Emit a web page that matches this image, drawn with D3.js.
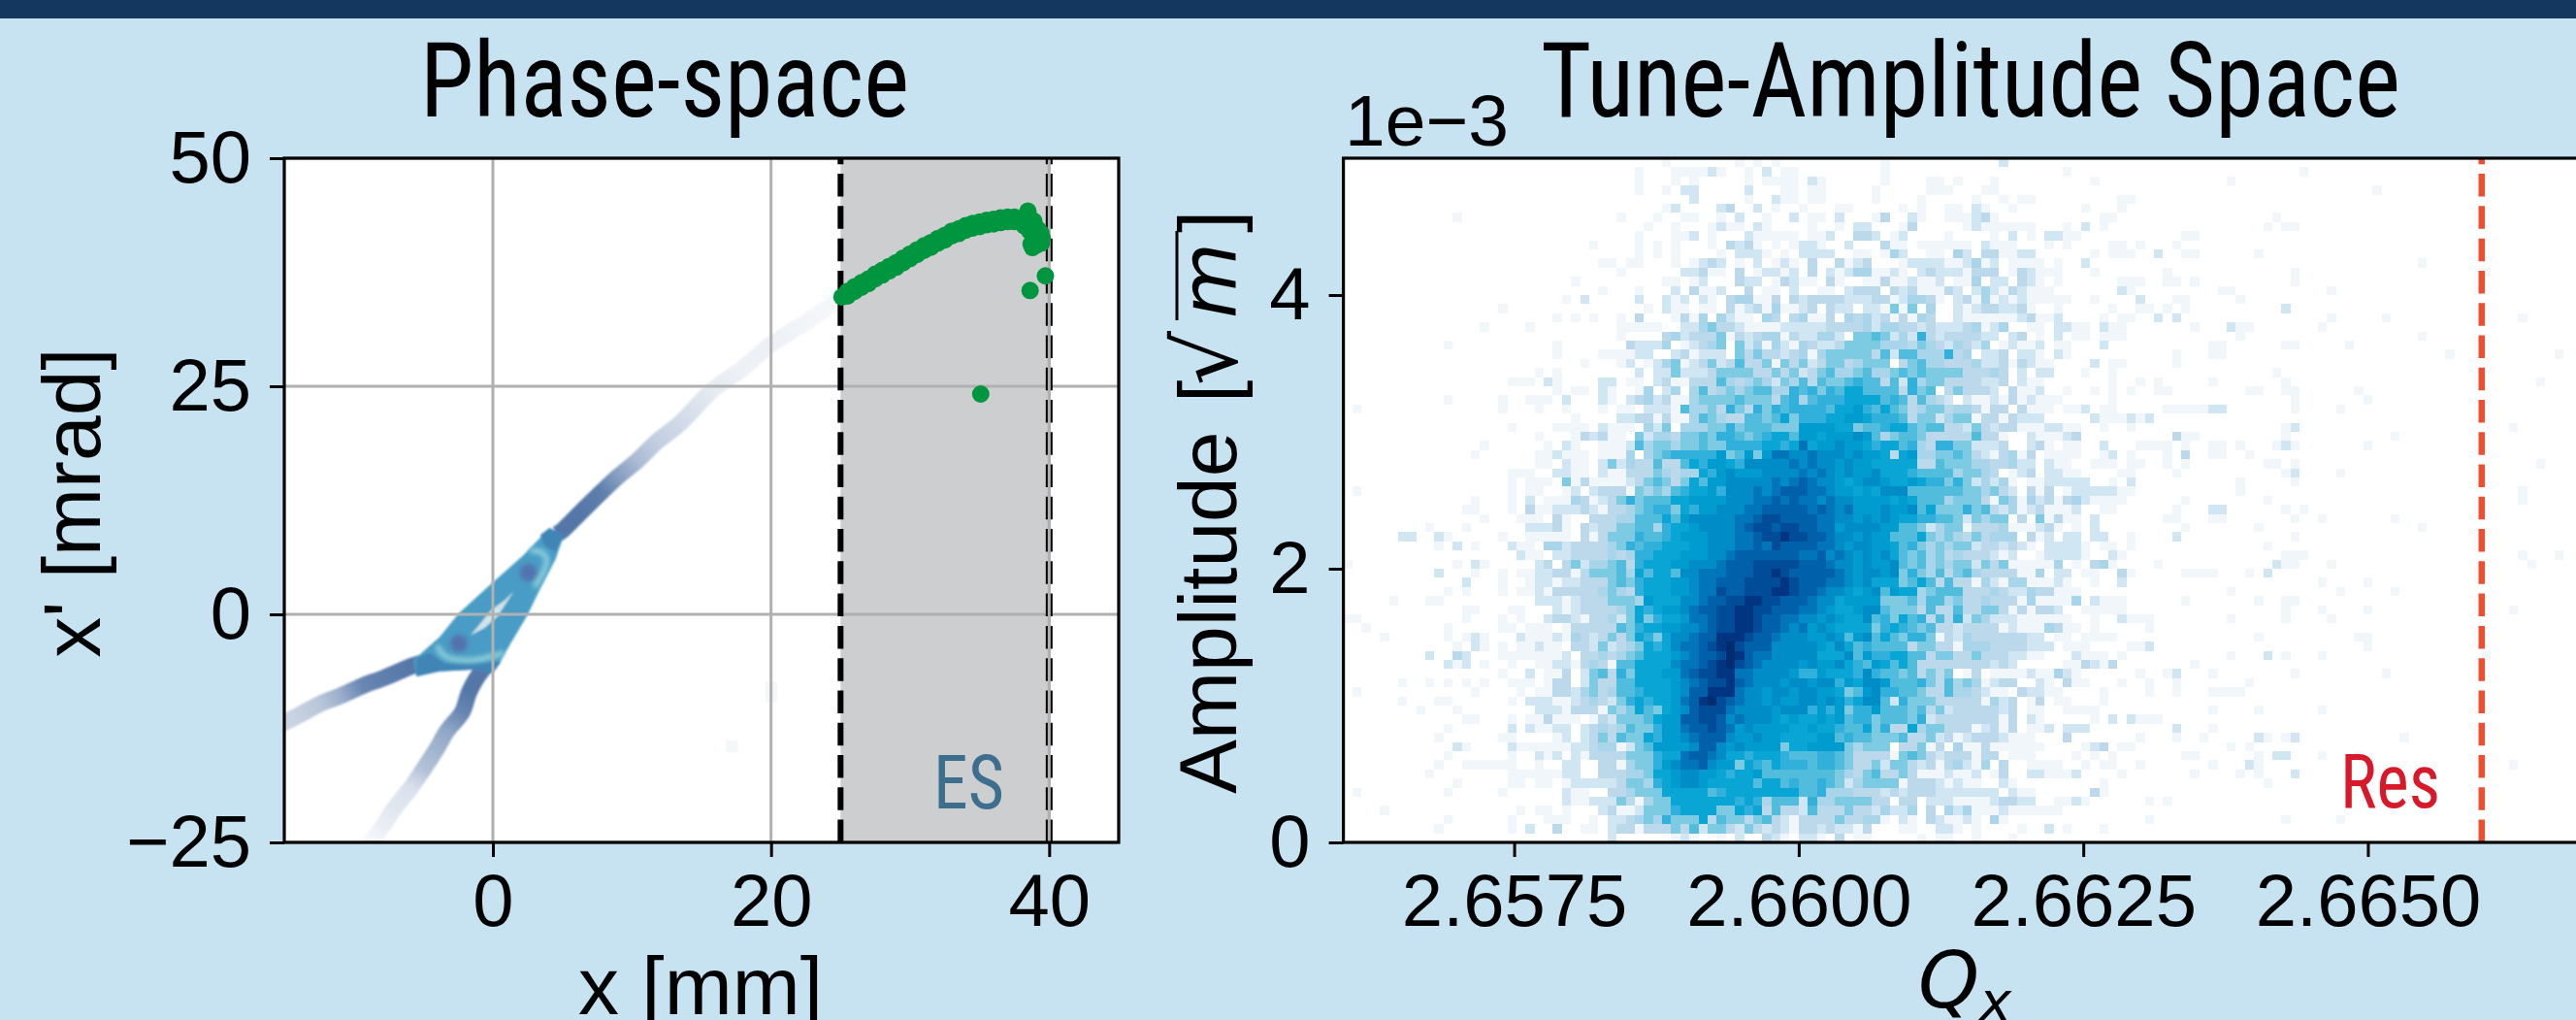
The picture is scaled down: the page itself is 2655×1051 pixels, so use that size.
<!DOCTYPE html>
<html>
<head>
<meta charset="utf-8">
<script src="https://d3js.org/d3.v7.min.js"></script>
<style>
html, body { margin: 0; padding: 0; background: #c7e2f1; overflow: hidden; }
text { font-family: "Liberation Sans", Arial, sans-serif; fill: #000; }
.head { font-family: "Roboto Condensed", Roboto, sans-serif; }
</style>
</head>
<body>
<div id="chart"></div>
<script>

// phase-space panel: arms of the separatrix, [x, x', density]
var armLeft = [[-15.6,-12.3,.28],[-14.0,-11.1,.34],[-12.4,-9.8,.42],[-10.9,-8.9,.6],[-9.4,-7.85,.88],[-7.8,-6.95,.95],[-5.7,-5.6,1],[-5.0,-5.3,1]];
var armDown = [[-9.4,-26,.03],[-8.8,-24.9,.05],[-8.0,-23.4,.12],[-7.1,-21.3,.18],[-5.9,-19.0,.22],[-5.0,-17.0,.45],[-4.1,-14.9,.55],[-3.3,-12.8,.65],[-2.2,-10.7,.9],[-1.7,-8.5,1],[-0.8,-6.2,1],[-0.4,-5.6,1]];
var armUp = [[24.9,34.5,.06],[22.5,32.0,.07],[20.0,29.6,.11],[18.0,27.0,.1],[15.8,24.6,.15],[13.5,21.0,.27],[11.7,18.8,.36],[10.35,16.8,.5],[9.07,15.2,.7],[7.8,13.4,.95],[6.2,11.0,1],[5.0,9.2,1],[4.6,8.8,1]];

// outline of the core and the features inside it, [x, x']
var coreOutline = [[-5.7,-5.0],[-3.84,-2.5],[-2.44,.14],[0,3.5],[2.2,6.5],[4.07,9.47],[5.1,8.65],[4.5,6.0],[3.4,2.8],[2.44,-.2],[1.28,-3.2],[.35,-5.7],[0,-6.4],[-1.5,-6.06],[-3.84,-6.24],[-5.5,-6.8]];
var coreEdgeLow = [[-5.5,-4.9],[-5.5,-6.8],[-3.84,-6.24],[-1.5,-6.06],[0,-6.4],[.6,-5.2],[-1.0,-5.3],[-3.4,-5.4],[-4.6,-4.2]];
var coreEdgeHigh = [[3.4,8.7],[4.07,9.47],[5.1,8.65],[4.5,6.9],[3.8,7.4]];
var ringLow = [[-4.0,-3.4],[-3.7,-4.5],[-2.8,-5.0],[-1.5,-5.1],[-.2,-4.7],[.8,-4.2]];
var ringHigh = [[2.7,7.0],[3.6,6.9],[4.0,6.0],[3.6,4.4],[3.0,3.0]];
var streak = [[-1.6,-2.3],[-.6,-1.5],[.3,-.3],[1.5,2.5],[.9,1.6],[-.1,.5],[-.9,-1.0]];
var lobeCentres = [[-2.44,-3.2],[2.56,4.57]];
var faintSpots = [[20,-8],[20,-9],[17.2,-14.5]];

// lost particles on the septum, [x, x']
var lostX = [25.1,25.4,25.8,26.1,26.5,26.9,27.3,27.7,28.1,28.5,28.9,29.3,29.7,30.1,30.5,30.9,31.3,31.7,32.1,32.5,32.9,33.3,33.7,34.1,34.5,34.9,35.3,35.7,36.1,36.5,36.9,37.3,37.7,38.0,38.3,38.6,38.9,39.2,39.4,39.5,39.45,39.1,38.8,38.47,38.5,35.08,38.63,39.73,
    25.5,26,26.5,27,27.5,28,28.5,29,29.5,30,30.5,31,31.5,32,32.5,33,33.5,34,34.5,35,35.5,36,36.5,37,37.5,
    25.5,26,26.5,27,27.5,28,28.5,29,29.5,30,30.5,31,31.5,32,32.5,33,33.5,34,34.5,35,35.5,36,36.5,37,37.5,
    38.2,38.6,38.9,39.0,38.7,39.3,38.9,38.4];
var lostXp = [34.8,35.1,35.3,35.7,36.1,36.4,36.9,37.2,37.5,37.9,38.2,38.6,39.0,39.3,39.7,40.0,40.3,40.7,41.0,41.3,41.6,41.9,42.1,42.4,42.6,42.7,42.9,43.0,43.1,43.2,43.3,43.3,43.3,43.2,43.1,42.9,42.6,42.2,41.8,41.2,40.7,40.5,40.2,44.2,43.7,24.15,35.5,37.1,
    35.4,35.9,36.35,36.75,37.3,37.7,38.15,38.55,39.05,39.5,39.95,40.4,40.75,41.2,41.55,42,42.25,42.6,42.85,43.0,43.2,43.3,43.45,43.55,43.55,
    34.9,35.4,35.85,36.25,36.8,37.2,37.65,38.05,38.55,39,39.45,39.9,40.25,40.7,41.05,41.5,41.75,42.1,42.35,42.5,42.7,42.8,42.95,43.05,43.05,
    42.6,42.0,41.5,41.0,40.6,41.2,43.1,43.5];

var phaseXTicks = [0,20,40];
var phaseYTicks = [-25,0,25,50];
var septumStart = 25;
var septumEnd = 40;

// tune-amplitude panel: histogram counts, one hex digit per bin, rows from the top
var countsLeft = [ // bins 19-56
"................1.......1.1.1.........",
".............1...111121..1.2.11.......",
".............1...1.1.....1.1111.21....",
".............1..1.22.....2...11.11....",
"...................2.....1..211.11....",
"................12....23..2.1..1...11.",
"...........1...1..11..1.2..1..2.11.2..",
"..............1..1...1211.21....1..1.2",
".............1...112.1...211111.112..3",
"........1....1.1.1...1.3231.1.1221..2.",
".............1.1.1....1.2221.1.2222..1",
".........11.11...1.1232.1.2.121.3..312",
"...........1......22311.3.12212.3.2124",
"......1.........11.12...322.13211.31..",
".........1...1...2.3112..3.11.2..11.23",
".....1.2.....2..212.21.344113.32333322",
"..............1.211.11.3123141123.322.",
"....1.1.1..1.3...1314.4211.43.34113.43",
".1.........11111..22453321111222223333",
"...........1....34233351323441322442.5",
"....1.......32224.12345.52414214322355",
"....1....111122..231222.53533234145555",
".......1...12.124512352363351535235534",
"..1.1........2.22522235555335352356445",
"11.21....22.11.23113336434542546365567",
"....1.11.21..14.24.4634545664476757688",
".111.2...21.23423114555565553674677788",
"..1..1...1.11.222164453753757677776889",
"......1....223313114654336656857778899",
"....1111.2111.425.44455756665559999885",
"..1...132311.524435565776567886998999a",
"...1.21..1112645545565577778878b899a99",
"..112111.1114.45677777956959bbaabaaa9a",
"..11.211.2524336336879987aaaaababaa9a9",
"11..2211.21133354344879a999aaaababa9a9",
".111.513111123565358699aaaaababcbaa989",
".11..12.233315454678897aaababcccbba998",
".2.11143123575666889999aaabbcbcbbabaa9",
".311222321334567758799aaabbcccccbcbab9",
"111.31..33344666869aaaaabbcddccccbbaa9",
".22231.3233556647889aaaabcddcddccbb9aa",
".11111.31355576678999aaabbcddeddccbaa9",
"11.442333345767788899aaabbcbdccccbba9a",
"211.22333343477888999aabcccccccbbcaba9",
"..23.35244563788899aaabcccdddddcccbaa9",
"112233135556486886aabbbcccddedcccccba9",
".122122333565788899abbcccddddedcccbba9",
"1121333334543788899abbdccdddeedccbaa98",
"..2221233355549888aabccddeeddcccbaa899",
"1...21233334587899abccddeeddcccbba9889",
"1..2332133425857889bbcddeedccbbaa9a988",
".111.1333336578899aabcddeedccbab9a9888",
"21112143235358758aabcceeedccbaaa99a969",
"11211.33252345878abbcdefdcccaaaaa98a86",
"111112.33434568889abccdfecbbaaaaa888a6",
"..112213431668888abbcdefdcbaaaa9a99a87",
".2.113.25637588899bcddeebbaaaa97798887",
"11.133.25336688889abcddecbaaa9aa9aa798",
"1.1133245346678889acceeebaa9aa9aa99856",
".22211234325787889bcefdcbaa9a99aa9a978",
"..2221333154586589acdddbaaaa9aaa797957",
".113111.1325556899ccddcabaaa9898898967",
".21122.23434655799bccdcb9a999988988766",
"....12.23536558799abccca99a99888899676",
"1111112234412569999acca9a9999588999954",
"..212.213333555788bccba887888766677653",
"..1..22..33145579abbca9958768777677653",
"1111122..333445889aa998788966666666543",
"1.11.1222223554789aa988888688676676524",
".....211..3345558888867888888886674443",
".....211222531455888888878746662744555",
"1.11.1...23112555788885587836332633353",
"...111..1.2234547555836553563213333533",
".2..3..11.2331333536255325323213323221",
"..........2......121..1.2..321.221.3.1"
];

var countsRight = [ // bins 57-94
"..1............2......................",
"..1...................1...............",
"..1....11.1...1..........1............",
".1.....111...11.......................",
".1....1.....1..1.11.........11........",
"....1.1..11.21..1.......1...1.........",
".13..21..111231...........11..........",
"2...13.....12111111...1.2.1...........",
"32.12....1....1.2.1.2211...........11.",
"..311.111111.2111...1.1....11.1...1...",
"1.142..11.42.331122......1.111..2..11.",
"3...12222112412.1111.1..2.............",
"41121.232221333.132111...1.......1....",
"113112112.114.22.321.1......111..11.1.",
"33.32311132.242132111.......21........",
"233124431.2314121211111..1....2...11..",
"221515.4..212332231..1.....1..11.1.1..",
"42313143..211111123112....1.11..2.2...",
"4244332322234124..11.2211.211.......1.",
"565242732333322.23.1.2.11.111.........",
"55444354324324.12112.11...2...........",
"536266444734.223.221.21...........1...",
"555.35644333422313211....2.11.....1...",
"6445656555533343.2.22...1..1..........",
"6636274553333223.211.......1..1.1.....",
"66663756.353332.3112..1..1.1.1..11....",
"8867636432.21121312111.....1..........",
"7686534553443133.3111.112.11.....11111",
"87776355245513313222.....2111212......",
"667886566332532331112211..1..1........",
"9645665333336331..211123..........311.",
"8788674377552223..231.11..2...1111.1..",
"9983894455653213413.1111..12.1...1.3..",
"9888883365554433422.211..111.11..1.1..",
"9a8887666645543.123.2211....11....1...",
"aa988987757524241.1122222..1.2........",
"98aaa666666554532.313.12222211........",
"99989866645553154142313421111......1..",
"99a99a685557563241231112..11......1...",
"a9a9887766525455.3.51311.2.......11...",
"aa99665245513334111231.1.2.........1..",
"a9966685454353444.312.22.22..1....2...",
"a998675454552332321.22221.11.1........",
"a9a86564534333212..122221..21.........",
"a99a656454552535111114.1.341....1.....",
"aa9a5754635643333114.22.11..31.....111",
"a8885686363314214411121..1..2.........",
"9a6988456663334322433111..............",
"995556466453343331411114.2111......1..",
"aa65553633633553131332..11111.........",
"a6758673637254222111111..1..2111......",
"857876563323333121114311.1.....1......",
"a6865775132433333322.11.1111..........",
"766663553314443333222.111....112......",
"97788663553353332211...2111.1.........",
"69868633333333232.....113213........1.",
"a766563535.13.1111211421......1..12...",
"aa966675364541233..21.311...1..1..1...",
"9a77665336443211.32211....1....1..1...",
"aa627555333331423.13.11...1...........",
"79666563523333323.11..1111............",
"75666572333333313.21.....1.2.2111.....",
"85733845533312313.112.222.........2...",
"6555633523123332111...3.......1...1..1",
"555.33513.4113111111....123.11........",
"333156532333133.111....1.1.1.......11.",
"35255323134214.3..1111..1.11..1.......",
"5633531112112.13..221112....1.......1.",
"5555133321211..21.........1...........",
"332323332222222.211......31...........",
"533.33.222111123322..1121......1.1....",
"324224.3.4241112111111................",
"441.21.321121.41...............1......",
"3...11..221.1....1..2.1...1...........",
"1.....1.11..1...1....................."
];

// stray bins outside the main cloud, [bin, row, count]
var strayLeft = [[12,6,1],[17,16,1],[15,18,1],[11,20,1],[18,24,1],[1,27,1],[11,26,1],[17,26,1],[17,27,1],[18,29,1],[15,31,1],[14,32,1],[18,34,1],[18,35,1],[18,36,1],[18,37,1],[18,38,1],[14,37,1],[14,38,1],[13,38,1],[1,36,1],[15,39,1],[6,41,2],[7,41,2],[9,40,1],[10,41,2],[11,41,1],[13,40,1],[17,41,1],[10,42,1],[12,42,2],[14,42,1],[18,42,2],[0,44,1],[12,44,1],[14,44,2],[15,44,1],[10,45,2],[14,45,1],[17,45,1],[17,46,1],[17,47,1],[13,46,2],[13,47,1],[11,47,1],[5,48,1],[9,48,1],[10,48,1],[13,49,1],[14,49,1],[13,50,1],[18,49,1],[0,50,1],[1,50,1],[17,50,1],[17,51,1],[18,51,1],[2,51,1],[11,51,1],[11,52,1],[4,52,1],[13,52,1],[14,52,2],[14,53,2],[15,52,1],[15,53,1],[12,53,1],[17,53,1],[9,54,2],[12,54,3],[13,54,2],[13,55,2],[17,54,1],[18,54,1],[11,55,2],[12,55,1],[15,55,1],[18,55,1],[17,56,1],[6,57,1],[9,57,1],[11,57,1],[13,57,1],[15,57,1],[18,57,1],[1,58,1],[14,58,1],[6,59,1],[10,59,1],[11,59,1],[18,59,1],[8,60,1],[12,60,1],[13,61,1],[14,61,1],[18,61,1],[18,62,2],[11,62,1],[10,63,1],[17,63,1],[18,63,1],[12,64,2],[13,64,1],[18,64,2],[11,65,1],[18,65,1],[10,66,1],[13,66,1],[14,66,1],[15,66,1],[16,66,1],[17,66,1],[18,66,1],[9,67,1],[18,67,1],[12,68,1],[18,68,1],[1,69,1],[11,69,1],[17,69,1],[4,71,1],[11,72,1],[10,73,1],[18,72,1],[18,73,1]];
var strayRight = [[105,1,1],[97,2,1],[113,3,1],[102,6,1],[101,7,1],[103,7,1],[104,7,1],[100,10,1],[118,11,1],[104,12,1],[104,13,1],[125,12,1],[96,14,1],[97,14,1],[108,14,1],[98,15,1],[103,16,2],[108,17,1],[114,17,1],[129,17,1],[97,18,2],[98,18,1],[99,18,1],[107,18,1],[98,19,1],[118,19,1],[95,20,1],[96,20,1],[95,21,1],[96,21,1],[103,20,1],[104,20,1],[110,20,1],[121,21,1],[133,21,1],[102,23,1],[95,24,1],[103,24,1],[103,25,1],[131,24,1],[99,25,1],[100,25,1],[104,25,1],[104,26,1],[104,27,1],[111,25,1],[112,26,1],[95,27,2],[96,27,2],[109,27,1],[103,29,1],[103,30,1],[104,29,2],[128,29,1],[115,30,1],[95,31,1],[96,31,1],[95,32,1],[96,32,1],[98,31,1],[102,31,1],[103,31,2],[104,31,1],[112,31,1],[99,32,1],[101,33,1],[102,33,1],[104,33,1],[131,33,1],[103,34,1],[104,34,2],[109,34,1],[98,35,1],[98,36,1],[104,35,1],[129,36,1],[129,37,1],[101,37,1],[95,38,2],[96,38,2],[103,38,1],[105,38,1],[95,39,1],[96,39,1],[104,39,1],[107,39,1],[115,39,1],[100,40,1],[118,40,1],[104,41,1],[101,42,1],[103,43,1],[104,43,1],[105,43,1],[129,43,1],[133,43,1],[102,44,2],[103,44,1],[104,44,1],[108,44,1],[130,44,1],[95,45,1],[99,45,1],[101,45,2],[107,46,1],[112,46,1],[97,47,1],[109,47,1],[115,47,1],[100,48,1],[103,48,1],[104,48,1],[107,49,1],[112,49,1],[128,49,1],[103,49,1],[103,50,1],[97,50,1],[108,50,1],[100,52,1],[111,52,1],[112,52,1],[112,53,1],[97,54,1],[101,54,2],[103,54,1],[107,54,1],[125,54,1],[95,56,1],[104,56,1],[114,56,1],[99,57,1],[95,58,1],[96,58,1],[97,58,1],[98,58,1],[100,60,1],[95,60,1],[107,60,1],[95,62,1],[100,63,2],[101,63,1],[103,63,1],[104,63,2],[116,63,1],[97,64,1],[99,64,1],[100,65,1],[100,66,1],[100,67,1],[102,65,2],[103,65,2],[107,65,1],[111,65,1],[95,66,1],[99,66,2],[128,66,1],[98,67,1],[104,67,2],[101,68,1],[103,72,1],[109,72,1]];

var tuneXTicks = [2.6575,2.66,2.6625,2.665];
var tuneYTicks = [0,.002,.004];
var resonance = 2.666;

// bin grid of the histogram
var tuneStart = 2.656, binWidth = .00008, binHeight = .005 / 75;

var levelColors = ["#ffffff","#f1f6fb","#d0e6f2","#bcd9ec","#a8d5ea","#7dcbe3","#52bcdc","#30b0da","#08a5d5","#009bcf","#008cc6","#0075ba","#0060aa","#004c98","#003582","#002c70"];

var width = 2655, height = 1051;
var plotTop = 163, plotBottom = 868;

var svg = d3.select("#chart").append("svg")
    .attr("width", width)
    .attr("height", height)
    .style("display", "block");

// background and top bar
svg.append("rect").attr("width", width).attr("height", height).attr("fill", "#c7e2f1");
svg.append("rect").attr("width", width).attr("height", 19).attr("fill", "#14375f");

var defs = svg.append("defs");
defs.append("clipPath").attr("id", "clipPhase").append("rect")
    .attr("x", 294).attr("y", plotTop).attr("width", 859).attr("height", plotBottom - plotTop);
defs.append("filter").attr("id", "soft").append("feGaussianBlur").attr("stdDeviation", 1.1);
defs.append("filter").attr("id", "softer").append("feGaussianBlur").attr("stdDeviation", 2.4);

// ---------- Phase-space panel ----------
var x1 = d3.scaleLinear().domain([-15, 45]).range([293, 1153]);
var y1 = d3.scaleLinear().domain([-25, 50]).range([plotBottom, plotTop]);

svg.append("rect")
    .attr("x", x1(-15)).attr("y", plotTop)
    .attr("width", x1(45) - x1(-15)).attr("height", plotBottom - plotTop)
    .attr("fill", "#fff");

// septum band
svg.append("rect")
    .attr("x", x1(septumStart)).attr("y", plotTop)
    .attr("width", x1(septumEnd) - x1(septumStart)).attr("height", plotBottom - plotTop)
    .attr("fill", "#cdced0");

var density = svg.append("g").attr("clip-path", "url(#clipPhase)");
var armColor = d3.interpolateRgb("#ffffff", "#5577a8");
var line1 = d3.line().x(function(d) { return x1(d[0]); }).y(function(d) { return y1(d[1]); });
var curve1 = d3.line().curve(d3.curveCatmullRom).x(function(d) { return x1(d[0]); }).y(function(d) { return y1(d[1]); });

var blurred = density.append("g").attr("filter", "url(#soft)");

// each arm is one stroke with a gradient along its end to end direction
[armLeft, armDown, armUp].forEach(function(arm, k) {
  var a = arm[0], b = arm[arm.length - 1];
  var ax = x1(a[0]), ay = y1(a[1]), bx = x1(b[0]), by = y1(b[1]);
  var len2 = (bx - ax) * (bx - ax) + (by - ay) * (by - ay);
  var grad = defs.append("linearGradient")
      .attr("id", "arm" + k)
      .attr("gradientUnits", "userSpaceOnUse")
      .attr("x1", ax).attr("y1", ay).attr("x2", bx).attr("y2", by);
  arm.forEach(function(p) {
    var t = ((x1(p[0]) - ax) * (bx - ax) + (y1(p[1]) - ay) * (by - ay)) / len2;
    grad.append("stop").attr("offset", t).attr("stop-color", armColor(p[2]));
  });
  blurred.append("path")
      .attr("d", curve1(arm))
      .attr("fill", "none")
      .attr("stroke", "url(#arm" + k + ")")
      .attr("stroke-width", 17);
});

blurred.append("path").attr("d", line1(coreOutline) + "Z").attr("fill", "#4a9cc5");
blurred.append("path").attr("d", line1(coreEdgeLow) + "Z").attr("fill", "#3f85b6");
blurred.append("path").attr("d", line1(coreEdgeHigh) + "Z").attr("fill", "#3f85b6");

var soft = density.append("g").attr("filter", "url(#softer)");
[ringLow, ringHigh].forEach(function(ring) {
  soft.append("path")
      .attr("d", d3.line().curve(d3.curveBasis).x(function(d) { return x1(d[0]); }).y(function(d) { return y1(d[1]); })(ring))
      .attr("fill", "none")
      .attr("stroke", "#93d3dc")
      .attr("stroke-width", 5);
});
soft.selectAll("circle.lobe")
    .data(lobeCentres)
    .enter().append("circle")
    .attr("class", "lobe")
    .attr("cx", function(d) { return x1(d[0]); })
    .attr("cy", function(d) { return y1(d[1]); })
    .attr("r", 9)
    .attr("fill", "#5372ad");
blurred.append("path").attr("d", line1(streak) + "Z").attr("fill", "#cfe4e9");

density.selectAll("rect.faint")
    .data(faintSpots)
    .enter().append("rect")
    .attr("class", "faint")
    .attr("x", function(d) { return x1(d[0]) - 6; })
    .attr("y", function(d) { return y1(d[1]) - 6; })
    .attr("width", 12).attr("height", 12)
    .attr("fill", "#f3f7f9");

// grid on top of the image
var grid1 = svg.append("g");
phaseXTicks.forEach(function(t) {
  grid1.append("line")
      .attr("x1", x1(t)).attr("x2", x1(t))
      .attr("y1", plotTop).attr("y2", plotBottom)
      .attr("stroke", "#b0b0b0").attr("stroke-width", 3);
});
phaseYTicks.forEach(function(t) {
  grid1.append("line")
      .attr("x1", x1(-15)).attr("x2", x1(45))
      .attr("y1", y1(t)).attr("y2", y1(t))
      .attr("stroke", "#b0b0b0").attr("stroke-width", 3);
});

// septum edges, dashes start from the bottom
[septumStart, septumEnd].forEach(function(t, i) {
  svg.append("line")
      .attr("x1", x1(t)).attr("x2", x1(t))
      .attr("y1", plotBottom).attr("y2", plotTop)
      .attr("stroke", "#000")
      .attr("stroke-width", i == 0 ? 6 : 7)
      .attr("stroke-dasharray", "23.5 9.77");
  // the grid line stays visible through the 40 mm dash
  if (i == 1) {
    svg.append("line")
        .attr("x1", x1(t)).attr("x2", x1(t))
        .attr("y1", plotTop).attr("y2", plotBottom)
        .attr("stroke", "#b0b0b0").attr("stroke-width", 3);
  }
});

// lost particles
svg.append("g").attr("clip-path", "url(#clipPhase)")
    .selectAll("circle")
    .data(lostX)
    .enter().append("circle")
    .attr("cx", function(d) { return x1(d); })
    .attr("cy", function(d, i) { return y1(lostXp[i]); })
    .attr("r", 9)
    .attr("fill", "#009640");

svg.append("text").attr("class", "head")
    .attr("x", 962).attr("y", 833)
    .attr("textLength", 73).attr("lengthAdjust", "spacingAndGlyphs")
    .style("font-size", "78px").style("fill", "#3e6e8e")
    .text("ES");

// axes
var axisBottom1 = d3.axisBottom(x1).tickValues(phaseXTicks).tickSize(15).tickPadding(17).tickFormat(d3.format("d"));
var axisLeft1 = d3.axisLeft(y1).tickValues(phaseYTicks).tickSize(15).tickPadding(19)
    .tickFormat(function(d) { return String(d).replace("-", "\u2212"); });

var gx1 = svg.append("g").attr("transform", "translate(0," + plotBottom + ")").call(axisBottom1);
var gy1 = svg.append("g").attr("transform", "translate(" + x1(-15) + ",0)").call(axisLeft1);

svg.append("rect")
    .attr("x", x1(-15)).attr("y", plotTop)
    .attr("width", x1(45) - x1(-15)).attr("height", plotBottom - plotTop)
    .attr("fill", "none").attr("stroke", "#000").attr("stroke-width", 3.2);

// ---------- Tune-amplitude panel ----------
var x2 = d3.scaleLinear().domain([2.656, 2.667]).range([1384.6, 2675.1]);
var y2 = d3.scaleLinear().domain([0, .005]).range([plotBottom, plotTop]);

svg.append("rect")
    .attr("x", x2(2.656)).attr("y", plotTop)
    .attr("width", x2(2.667) - x2(2.656)).attr("height", plotBottom - plotTop)
    .attr("fill", "#fff");

// gather the non empty bins
var bins = [];
function addRow(rowText, row, firstBin) {
  rowText.split("").forEach(function(c, i) {
    if (c != ".") bins.push({bin: firstBin + i, row: row, count: parseInt(c, 16)});
  });
}
countsLeft.forEach(function(r, j) { addRow(r, j, 19); });
countsRight.forEach(function(r, j) { addRow(r, j, 57); });
strayLeft.concat(strayRight).forEach(function(d) { bins.push({bin: d[0], row: d[1], count: d[2]}); });

svg.append("g").selectAll("rect")
    .data(bins)
    .enter().append("rect")
    .attr("x", function(d) { return x2(tuneStart + d.bin * binWidth); })
    .attr("y", function(d) { return y2(.005 - d.row * binHeight); })
    .attr("width", function(d) { return x2(tuneStart + (d.bin + 1) * binWidth) - x2(tuneStart + d.bin * binWidth); })
    .attr("height", function(d) { return y2(.005 - (d.row + 1) * binHeight) - y2(.005 - d.row * binHeight); })
    .attr("fill", function(d) { return levelColors[d.count]; })
    .attr("shape-rendering", "crispEdges");

// resonance line
svg.append("line")
    .attr("x1", x2(resonance)).attr("x2", x2(resonance))
    .attr("y1", plotBottom).attr("y2", plotTop)
    .attr("stroke", "#f04e2e")
    .attr("stroke-width", 6.5)
    .attr("stroke-dasharray", "23.5 9.77");

svg.append("text").attr("class", "head")
    .attr("x", 2412).attr("y", 832)
    .attr("textLength", 103).attr("lengthAdjust", "spacingAndGlyphs")
    .style("font-size", "78px").style("fill", "#d7192a")
    .text("Res");

var axisBottom2 = d3.axisBottom(x2).tickValues(tuneXTicks).tickSize(15).tickPadding(17).tickFormat(d3.format(".4f"));
var axisLeft2 = d3.axisLeft(y2).tickValues(tuneYTicks).tickSize(15).tickPadding(19)
    .tickFormat(function(d) { return Math.round(d * 1000); });

var gx2 = svg.append("g").attr("transform", "translate(0," + plotBottom + ")").call(axisBottom2);
var gy2 = svg.append("g").attr("transform", "translate(" + x2(2.656) + ",0)").call(axisLeft2);

svg.append("rect")
    .attr("x", x2(2.656)).attr("y", plotTop)
    .attr("width", x2(2.667) - x2(2.656)).attr("height", plotBottom - plotTop)
    .attr("fill", "none").attr("stroke", "#000").attr("stroke-width", 3.2);

// axis styling
[gx1, gy1, gx2, gy2].forEach(function(g) {
  g.select(".domain").remove();
  g.selectAll(".tick line").attr("stroke", "#000").attr("stroke-width", 3);
  g.selectAll(".tick text")
      .attr("fill", "#000")
      .style("font-family", "'Liberation Sans', Arial, sans-serif")
      .style("font-size", "76px");
});

// ---------- titles and labels ----------
svg.append("text").attr("class", "head")
    .attr("x", 433).attr("y", 120)
    .attr("textLength", 504).attr("lengthAdjust", "spacingAndGlyphs")
    .style("font-size", "108px")
    .text("Phase-space");

svg.append("text").attr("class", "head")
    .attr("x", 1588).attr("y", 120)
    .attr("textLength", 886).attr("lengthAdjust", "spacingAndGlyphs")
    .style("font-size", "108px")
    .text("Tune-Amplitude Space");

svg.append("text")
    .attr("x", 1386).attr("y", 150)
    .style("font-size", "75px")
    .text("1e\u22123");

svg.append("text")
    .attr("x", 722).attr("y", 1045)
    .attr("text-anchor", "middle")
    .style("font-size", "84px")
    .text("x [mm]");

svg.append("text")
    .attr("transform", "translate(103,518) rotate(-90)")
    .attr("text-anchor", "middle")
    .style("font-size", "84px")
    .text("x' [mrad]");

// Amplitude label is set piece by piece, like the mathtext in the original
function rotated(px, py, txt, size, fam, ital) {
  var t = svg.append("text")
      .attr("transform", "translate(" + px + "," + py + ") rotate(-90)")
      .style("font-size", size + "px")
      .text(txt);
  if (fam) t.style("font-family", fam);
  if (ital) t.style("font-style", "italic");
  return t;
}
rotated(1274, 818, "Amplitude", 84);
rotated(1274, 415, "[", 84);
rotated(1274, 397, "\u221A", 88, "'DejaVu Sans'");
rotated(1274, 328, "m", 80, "'DejaVu Sans'", true);
rotated(1274, 240, "]", 84);
svg.append("line")
    .attr("x1", 1213).attr("x2", 1213)
    .attr("y1", 330).attr("y2", 238)
    .attr("stroke", "#000").attr("stroke-width", 3);

var qx = svg.append("text")
    .attr("x", 1977).attr("y", 1038)
    .style("font-family", "'DejaVu Sans'")
    .style("font-style", "italic")
    .style("font-size", "80px")
    .text("Q");
qx.append("tspan").attr("dy", 13).style("font-size", "56px").text("x");

</script>
</body>
</html>
